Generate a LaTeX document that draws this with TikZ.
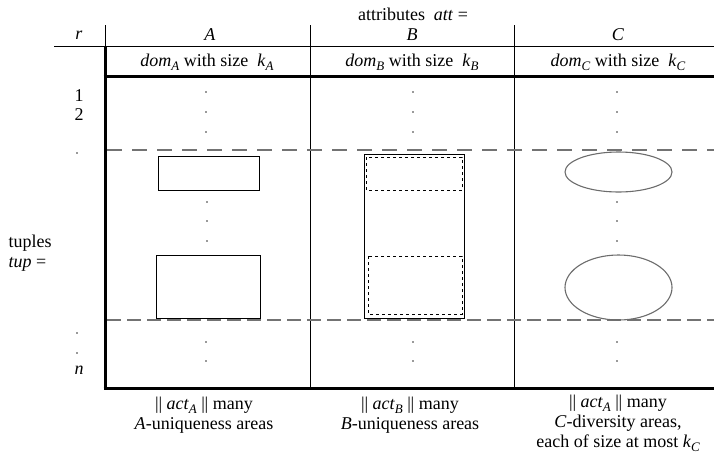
\documentclass[tikz,border=0pt]{standalone}
\usepackage{fontspec}
\setmainfont{Liberation Serif}
\newcommand{\sbs}[1]{\raisebox{-0.45ex}{\fontsize{13}{13}\selectfont\itshape #1}}
\newcommand{\dbar}{|\kern-0.3pt|}
\begin{document}
\begin{tikzpicture}[x=1pt,y=-1pt,
  txt/.style={inner sep=0pt,font=\fontsize{18}{20}\selectfont,align=center},
  thin/.style={line width=0.9pt,black},
  thick/.style={line width=3pt,black},
  sep/.style={line width=1.4pt,gray!90!black,dash pattern=on 15pt off 10pt},
  sepb/.style={line width=1.4pt,gray!90!black,dash pattern=on 14pt off 6pt},
  area/.style={line width=0.9pt,black},
  inner/.style={line width=0.9pt,black,dash pattern=on 3pt off 3pt},
  ell/.style={line width=1.1pt,gray!85!black},
  dot/.style={circle,fill=black!80,inner sep=0pt,minimum size=1.6pt}]
\useasboundingbox (0,0) rectangle (714,453);
% header texts
\node[txt] (att) at (413,14) {attributes\ \ \textit{att} =};
\node[txt] (r) at (79,35) {\textit{r}};
\node[txt] (hA) at (210,35) {\textit{A}};
\node[txt] (hB) at (412,35) {\textit{B}};
\node[txt] (hC) at (618,35) {\textit{C}};
\node[txt] (dA) at (207,62) {\textit{dom}\sbs{A}\ with size\ \ \textit{k}\sbs{A}};
\node[txt] (dB) at (412,62) {\textit{dom}\sbs{B}\ with size\ \ \textit{k}\sbs{B}};
\node[txt] (dC) at (618,62) {\textit{dom}\sbs{C}\ with size\ \ \textit{k}\sbs{C}};
% grid lines
\draw[thin] (54,46) -- (714,46);
\draw[thin] (105,25) -- (105,46);
\draw[thin] (310,25) -- (310,388);
\draw[thin] (514,25) -- (514,388);
\draw[thick] (105,46) -- (105,389.5);
\draw[thick] (103.5,76) -- (714,76);
\draw[thick] (103.5,388) -- (714,388);
% dashed separators
\draw[sep] (107,150) -- (714,150);
\draw[sepb] (107,320) -- (714,320);
% left labels
\node[txt] (n1) at (79,96) {1};
\node[txt] (n2) at (79,115) {2};
\node[dot] (ld1) at (77,153) {};
\node[txt,align=left] (tup) at (30,253) {tuples\\\textit{tup} =};
\node[dot] (ld2) at (77,333) {};
\node[dot] (ld3) at (77,353) {};
\node[txt] (nn) at (79,370) {\textit{n}};
% column dots
\foreach \x in {206,413,617}{
  \foreach \y in {92,112,132,342,361}{
    \node[dot] at (\x,\y) {};
  }
}
\foreach \x in {207,617}{
  \foreach \y in {202,221,241}{
    \node[dot] at (\x,\y) {};
  }
}
% column A areas
\draw[area] (158,156) rectangle (259,190);
\draw[area] (156,255) rectangle (260,318);
% column B areas
\draw[area] (364,154) rectangle (464,318);
\draw[inner] (366,157) rectangle (462,190);
\draw[inner] (368,256) rectangle (462,314);
% column C areas
\draw[ell] (618.5,172) ellipse [x radius=53.5, y radius=20];
\draw[ell] (618.5,287.5) ellipse [x radius=53.5, y radius=32.5];
% bottom labels
\node[txt] (bA) at (204,415) {\dbar\ \textit{act}\sbs{A}\ \dbar\ many\\\textit{A}-uniqueness areas};
\node[txt] (bB) at (410,415) {\dbar\ \textit{act}\sbs{B}\ \dbar\ many\\\textit{B}-uniqueness areas};
\node[txt] (bC) at (618,423) {\dbar\ \textit{act}\sbs{A}\ \dbar\ many\\\textit{C}-diversity areas,\\each of size at most \textit{k}\sbs{C}};
\end{tikzpicture}
\end{document}
